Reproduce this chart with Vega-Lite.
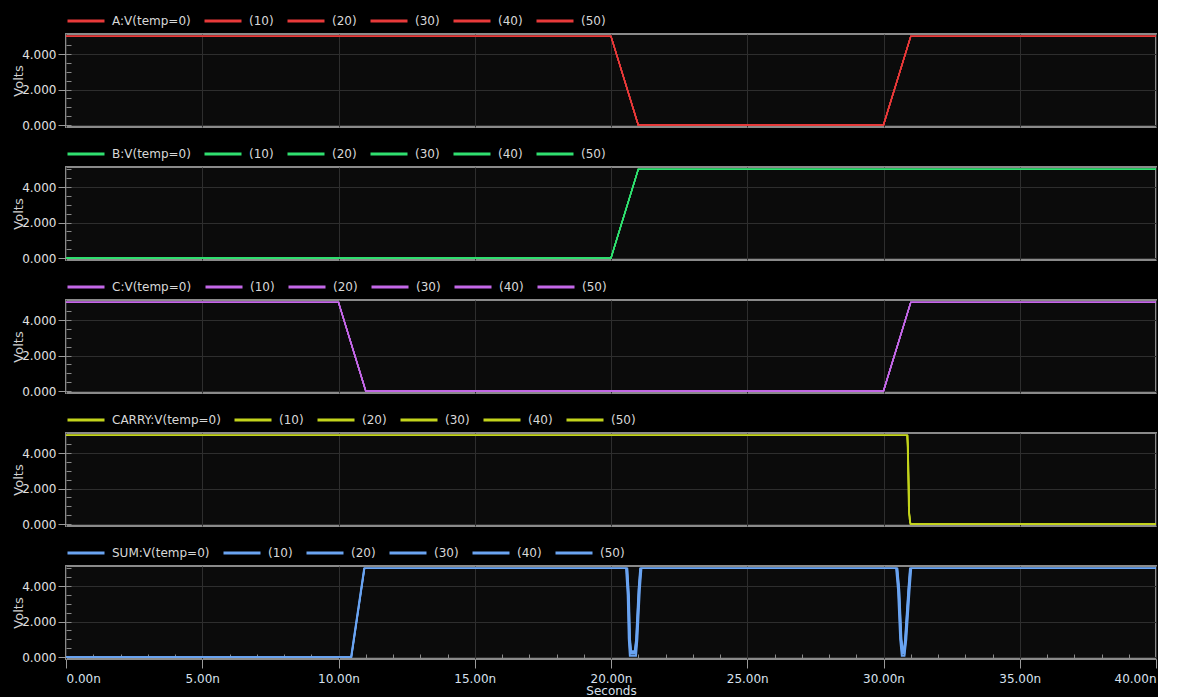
{
"$schema":"https://vega.github.io/schema/vega-lite/v6.json",
"background":"#000000",
"padding":{"left":10,"top":0,"right":0,"bottom":0},
"bounds":"flush",
"spacing":40,
"config":{
 "font":"DejaVu Sans",
 "view":{"fill":"#0b0b0b","stroke":"#8a8a8a","strokeWidth":2},
 "legend":{"orient":"none","legendX":0,"legendY":-33,"direction":"horizontal","columns":6,"symbolType":"stroke","symbolSize":1369,"symbolStrokeWidth":3,"labelFont":"DejaVu Sans","labelFontSize":12,"labelColor":"#d8d8d8","labelOffset":6,"columnPadding":7,"title":null}
},
"resolve":{"scale":{"color":"independent","x":"independent","y":"independent"},"legend":{"color":"independent"}},
"datasets":{"w":[
{"sig":"A","s":"A:V(temp=0)","t":0,"v":5},{"sig":"A","s":"A:V(temp=0)","t":20,"v":5},{"sig":"A","s":"A:V(temp=0)","t":21,"v":0},{"sig":"A","s":"A:V(temp=0)","t":30,"v":0},{"sig":"A","s":"A:V(temp=0)","t":31,"v":5},{"sig":"A","s":"A:V(temp=0)","t":40,"v":5},
{"sig":"A","s":"(10)","t":0,"v":5},{"sig":"A","s":"(10)","t":20,"v":5},{"sig":"A","s":"(10)","t":21,"v":0},{"sig":"A","s":"(10)","t":30,"v":0},{"sig":"A","s":"(10)","t":31,"v":5},{"sig":"A","s":"(10)","t":40,"v":5},
{"sig":"A","s":"(20)","t":0,"v":5},{"sig":"A","s":"(20)","t":20,"v":5},{"sig":"A","s":"(20)","t":21,"v":0},{"sig":"A","s":"(20)","t":30,"v":0},{"sig":"A","s":"(20)","t":31,"v":5},{"sig":"A","s":"(20)","t":40,"v":5},
{"sig":"A","s":"(30)","t":0,"v":5},{"sig":"A","s":"(30)","t":20,"v":5},{"sig":"A","s":"(30)","t":21,"v":0},{"sig":"A","s":"(30)","t":30,"v":0},{"sig":"A","s":"(30)","t":31,"v":5},{"sig":"A","s":"(30)","t":40,"v":5},
{"sig":"A","s":"(40)","t":0,"v":5},{"sig":"A","s":"(40)","t":20,"v":5},{"sig":"A","s":"(40)","t":21,"v":0},{"sig":"A","s":"(40)","t":30,"v":0},{"sig":"A","s":"(40)","t":31,"v":5},{"sig":"A","s":"(40)","t":40,"v":5},
{"sig":"A","s":"(50)","t":0,"v":5},{"sig":"A","s":"(50)","t":20,"v":5},{"sig":"A","s":"(50)","t":21,"v":0},{"sig":"A","s":"(50)","t":30,"v":0},{"sig":"A","s":"(50)","t":31,"v":5},{"sig":"A","s":"(50)","t":40,"v":5},
{"sig":"B","s":"B:V(temp=0)","t":0,"v":0},{"sig":"B","s":"B:V(temp=0)","t":20,"v":0},{"sig":"B","s":"B:V(temp=0)","t":21,"v":5},{"sig":"B","s":"B:V(temp=0)","t":40,"v":5},
{"sig":"B","s":"(10)","t":0,"v":0},{"sig":"B","s":"(10)","t":20,"v":0},{"sig":"B","s":"(10)","t":21,"v":5},{"sig":"B","s":"(10)","t":40,"v":5},
{"sig":"B","s":"(20)","t":0,"v":0},{"sig":"B","s":"(20)","t":20,"v":0},{"sig":"B","s":"(20)","t":21,"v":5},{"sig":"B","s":"(20)","t":40,"v":5},
{"sig":"B","s":"(30)","t":0,"v":0},{"sig":"B","s":"(30)","t":20,"v":0},{"sig":"B","s":"(30)","t":21,"v":5},{"sig":"B","s":"(30)","t":40,"v":5},
{"sig":"B","s":"(40)","t":0,"v":0},{"sig":"B","s":"(40)","t":20,"v":0},{"sig":"B","s":"(40)","t":21,"v":5},{"sig":"B","s":"(40)","t":40,"v":5},
{"sig":"B","s":"(50)","t":0,"v":0},{"sig":"B","s":"(50)","t":20,"v":0},{"sig":"B","s":"(50)","t":21,"v":5},{"sig":"B","s":"(50)","t":40,"v":5},
{"sig":"C","s":"C:V(temp=0)","t":0,"v":5},{"sig":"C","s":"C:V(temp=0)","t":10,"v":5},{"sig":"C","s":"C:V(temp=0)","t":11,"v":0},{"sig":"C","s":"C:V(temp=0)","t":30,"v":0},{"sig":"C","s":"C:V(temp=0)","t":31,"v":5},{"sig":"C","s":"C:V(temp=0)","t":40,"v":5},
{"sig":"C","s":"(10)","t":0,"v":5},{"sig":"C","s":"(10)","t":10,"v":5},{"sig":"C","s":"(10)","t":11,"v":0},{"sig":"C","s":"(10)","t":30,"v":0},{"sig":"C","s":"(10)","t":31,"v":5},{"sig":"C","s":"(10)","t":40,"v":5},
{"sig":"C","s":"(20)","t":0,"v":5},{"sig":"C","s":"(20)","t":10,"v":5},{"sig":"C","s":"(20)","t":11,"v":0},{"sig":"C","s":"(20)","t":30,"v":0},{"sig":"C","s":"(20)","t":31,"v":5},{"sig":"C","s":"(20)","t":40,"v":5},
{"sig":"C","s":"(30)","t":0,"v":5},{"sig":"C","s":"(30)","t":10,"v":5},{"sig":"C","s":"(30)","t":11,"v":0},{"sig":"C","s":"(30)","t":30,"v":0},{"sig":"C","s":"(30)","t":31,"v":5},{"sig":"C","s":"(30)","t":40,"v":5},
{"sig":"C","s":"(40)","t":0,"v":5},{"sig":"C","s":"(40)","t":10,"v":5},{"sig":"C","s":"(40)","t":11,"v":0},{"sig":"C","s":"(40)","t":30,"v":0},{"sig":"C","s":"(40)","t":31,"v":5},{"sig":"C","s":"(40)","t":40,"v":5},
{"sig":"C","s":"(50)","t":0,"v":5},{"sig":"C","s":"(50)","t":10,"v":5},{"sig":"C","s":"(50)","t":11,"v":0},{"sig":"C","s":"(50)","t":30,"v":0},{"sig":"C","s":"(50)","t":31,"v":5},{"sig":"C","s":"(50)","t":40,"v":5},
{"sig":"CARRY","s":"CARRY:V(temp=0)","t":0,"v":5},{"sig":"CARRY","s":"CARRY:V(temp=0)","t":30.86,"v":5},{"sig":"CARRY","s":"CARRY:V(temp=0)","t":30.88,"v":4.3},{"sig":"CARRY","s":"CARRY:V(temp=0)","t":30.92,"v":1.0},{"sig":"CARRY","s":"CARRY:V(temp=0)","t":30.95,"v":0.3},{"sig":"CARRY","s":"CARRY:V(temp=0)","t":30.98,"v":0},{"sig":"CARRY","s":"CARRY:V(temp=0)","t":40,"v":0},
{"sig":"CARRY","s":"(10)","t":0,"v":5},{"sig":"CARRY","s":"(10)","t":30.87,"v":5},{"sig":"CARRY","s":"(10)","t":30.89,"v":4.2},{"sig":"CARRY","s":"(10)","t":30.93,"v":0.9},{"sig":"CARRY","s":"(10)","t":30.96,"v":0.2},{"sig":"CARRY","s":"(10)","t":30.99,"v":0},{"sig":"CARRY","s":"(10)","t":40,"v":0},
{"sig":"CARRY","s":"(20)","t":0,"v":5},{"sig":"CARRY","s":"(20)","t":30.87,"v":5},{"sig":"CARRY","s":"(20)","t":30.9,"v":4.1},{"sig":"CARRY","s":"(20)","t":30.94,"v":0.8},{"sig":"CARRY","s":"(20)","t":30.97,"v":0.2},{"sig":"CARRY","s":"(20)","t":31.0,"v":0},{"sig":"CARRY","s":"(20)","t":40,"v":0},
{"sig":"CARRY","s":"(30)","t":0,"v":5},{"sig":"CARRY","s":"(30)","t":30.88,"v":5},{"sig":"CARRY","s":"(30)","t":30.9,"v":4.0},{"sig":"CARRY","s":"(30)","t":30.94,"v":0.7},{"sig":"CARRY","s":"(30)","t":30.97,"v":0.2},{"sig":"CARRY","s":"(30)","t":31.0,"v":0},{"sig":"CARRY","s":"(30)","t":40,"v":0},
{"sig":"CARRY","s":"(40)","t":0,"v":5},{"sig":"CARRY","s":"(40)","t":30.88,"v":5},{"sig":"CARRY","s":"(40)","t":30.91,"v":3.9},{"sig":"CARRY","s":"(40)","t":30.95,"v":0.6},{"sig":"CARRY","s":"(40)","t":30.98,"v":0.1},{"sig":"CARRY","s":"(40)","t":31.01,"v":0},{"sig":"CARRY","s":"(40)","t":40,"v":0},
{"sig":"CARRY","s":"(50)","t":0,"v":5},{"sig":"CARRY","s":"(50)","t":30.89,"v":5},{"sig":"CARRY","s":"(50)","t":30.91,"v":3.8},{"sig":"CARRY","s":"(50)","t":30.95,"v":0.6},{"sig":"CARRY","s":"(50)","t":30.98,"v":0.1},{"sig":"CARRY","s":"(50)","t":31.01,"v":0},{"sig":"CARRY","s":"(50)","t":40,"v":0},
{"sig":"SUM","s":"SUM:V(temp=0)","t":0,"v":0},{"sig":"SUM","s":"SUM:V(temp=0)","t":10.45,"v":0},{"sig":"SUM","s":"SUM:V(temp=0)","t":10.93,"v":5},{"sig":"SUM","s":"SUM:V(temp=0)","t":20.54,"v":5},{"sig":"SUM","s":"SUM:V(temp=0)","t":20.6,"v":3.5},{"sig":"SUM","s":"SUM:V(temp=0)","t":20.64,"v":1},{"sig":"SUM","s":"SUM:V(temp=0)","t":20.68,"v":0.06},{"sig":"SUM","s":"SUM:V(temp=0)","t":20.93,"v":0.06},{"sig":"SUM","s":"SUM:V(temp=0)","t":20.98,"v":1},{"sig":"SUM","s":"SUM:V(temp=0)","t":21.07,"v":3.8},{"sig":"SUM","s":"SUM:V(temp=0)","t":21.13,"v":5},{"sig":"SUM","s":"SUM:V(temp=0)","t":30.45,"v":5},{"sig":"SUM","s":"SUM:V(temp=0)","t":30.52,"v":3.8},{"sig":"SUM","s":"SUM:V(temp=0)","t":30.6,"v":1},{"sig":"SUM","s":"SUM:V(temp=0)","t":30.66,"v":0.06},{"sig":"SUM","s":"SUM:V(temp=0)","t":30.78,"v":0.06},{"sig":"SUM","s":"SUM:V(temp=0)","t":30.85,"v":1},{"sig":"SUM","s":"SUM:V(temp=0)","t":30.97,"v":3.8},{"sig":"SUM","s":"SUM:V(temp=0)","t":31.03,"v":5},{"sig":"SUM","s":"SUM:V(temp=0)","t":40,"v":5},
{"sig":"SUM","s":"(10)","t":0,"v":0},{"sig":"SUM","s":"(10)","t":10.46,"v":0},{"sig":"SUM","s":"(10)","t":10.94,"v":5},{"sig":"SUM","s":"(10)","t":20.56,"v":5},{"sig":"SUM","s":"(10)","t":20.62,"v":3.5},{"sig":"SUM","s":"(10)","t":20.66,"v":1},{"sig":"SUM","s":"(10)","t":20.7,"v":0.1},{"sig":"SUM","s":"(10)","t":20.91,"v":0.1},{"sig":"SUM","s":"(10)","t":20.96,"v":1},{"sig":"SUM","s":"(10)","t":21.05,"v":3.8},{"sig":"SUM","s":"(10)","t":21.11,"v":5},{"sig":"SUM","s":"(10)","t":30.47,"v":5},{"sig":"SUM","s":"(10)","t":30.54,"v":3.8},{"sig":"SUM","s":"(10)","t":30.62,"v":1},{"sig":"SUM","s":"(10)","t":30.68,"v":0.1},{"sig":"SUM","s":"(10)","t":30.77,"v":0.1},{"sig":"SUM","s":"(10)","t":30.83,"v":1},{"sig":"SUM","s":"(10)","t":30.95,"v":3.8},{"sig":"SUM","s":"(10)","t":31.01,"v":5},{"sig":"SUM","s":"(10)","t":40,"v":5},
{"sig":"SUM","s":"(20)","t":0,"v":0},{"sig":"SUM","s":"(20)","t":10.47,"v":0},{"sig":"SUM","s":"(20)","t":10.95,"v":5},{"sig":"SUM","s":"(20)","t":20.58,"v":5},{"sig":"SUM","s":"(20)","t":20.64,"v":3.5},{"sig":"SUM","s":"(20)","t":20.68,"v":1},{"sig":"SUM","s":"(20)","t":20.72,"v":0.2},{"sig":"SUM","s":"(20)","t":20.89,"v":0.2},{"sig":"SUM","s":"(20)","t":20.94,"v":1},{"sig":"SUM","s":"(20)","t":21.03,"v":3.8},{"sig":"SUM","s":"(20)","t":21.09,"v":5},{"sig":"SUM","s":"(20)","t":30.49,"v":5},{"sig":"SUM","s":"(20)","t":30.56,"v":3.8},{"sig":"SUM","s":"(20)","t":30.64,"v":1},{"sig":"SUM","s":"(20)","t":30.7,"v":0.2},{"sig":"SUM","s":"(20)","t":30.75,"v":0.2},{"sig":"SUM","s":"(20)","t":30.81,"v":1},{"sig":"SUM","s":"(20)","t":30.93,"v":3.8},{"sig":"SUM","s":"(20)","t":30.99,"v":5},{"sig":"SUM","s":"(20)","t":40,"v":5},
{"sig":"SUM","s":"(30)","t":0,"v":0},{"sig":"SUM","s":"(30)","t":10.47,"v":0},{"sig":"SUM","s":"(30)","t":10.95,"v":5},{"sig":"SUM","s":"(30)","t":20.59,"v":5},{"sig":"SUM","s":"(30)","t":20.65,"v":3.4},{"sig":"SUM","s":"(30)","t":20.69,"v":1},{"sig":"SUM","s":"(30)","t":20.73,"v":0.25},{"sig":"SUM","s":"(30)","t":20.88,"v":0.25},{"sig":"SUM","s":"(30)","t":20.93,"v":1},{"sig":"SUM","s":"(30)","t":21.02,"v":3.8},{"sig":"SUM","s":"(30)","t":21.08,"v":5},{"sig":"SUM","s":"(30)","t":30.5,"v":5},{"sig":"SUM","s":"(30)","t":30.57,"v":3.8},{"sig":"SUM","s":"(30)","t":30.65,"v":1},{"sig":"SUM","s":"(30)","t":30.71,"v":0.25},{"sig":"SUM","s":"(30)","t":30.74,"v":0.25},{"sig":"SUM","s":"(30)","t":30.8,"v":1},{"sig":"SUM","s":"(30)","t":30.92,"v":3.8},{"sig":"SUM","s":"(30)","t":30.98,"v":5},{"sig":"SUM","s":"(30)","t":40,"v":5},
{"sig":"SUM","s":"(40)","t":0,"v":0},{"sig":"SUM","s":"(40)","t":10.48,"v":0},{"sig":"SUM","s":"(40)","t":10.96,"v":5},{"sig":"SUM","s":"(40)","t":20.6,"v":5},{"sig":"SUM","s":"(40)","t":20.66,"v":3.4},{"sig":"SUM","s":"(40)","t":20.7,"v":1},{"sig":"SUM","s":"(40)","t":20.74,"v":0.3},{"sig":"SUM","s":"(40)","t":20.87,"v":0.3},{"sig":"SUM","s":"(40)","t":20.92,"v":1},{"sig":"SUM","s":"(40)","t":21.01,"v":3.8},{"sig":"SUM","s":"(40)","t":21.07,"v":5},{"sig":"SUM","s":"(40)","t":30.51,"v":5},{"sig":"SUM","s":"(40)","t":30.58,"v":3.8},{"sig":"SUM","s":"(40)","t":30.66,"v":1},{"sig":"SUM","s":"(40)","t":30.72,"v":0.3},{"sig":"SUM","s":"(40)","t":30.74,"v":0.3},{"sig":"SUM","s":"(40)","t":30.79,"v":1},{"sig":"SUM","s":"(40)","t":30.91,"v":3.8},{"sig":"SUM","s":"(40)","t":30.97,"v":5},{"sig":"SUM","s":"(40)","t":40,"v":5},
{"sig":"SUM","s":"(50)","t":0,"v":0},{"sig":"SUM","s":"(50)","t":10.48,"v":0},{"sig":"SUM","s":"(50)","t":10.96,"v":5},{"sig":"SUM","s":"(50)","t":20.61,"v":5},{"sig":"SUM","s":"(50)","t":20.67,"v":3.4},{"sig":"SUM","s":"(50)","t":20.71,"v":1},{"sig":"SUM","s":"(50)","t":20.75,"v":0.35},{"sig":"SUM","s":"(50)","t":20.86,"v":0.35},{"sig":"SUM","s":"(50)","t":20.91,"v":1},{"sig":"SUM","s":"(50)","t":21.0,"v":3.8},{"sig":"SUM","s":"(50)","t":21.06,"v":5},{"sig":"SUM","s":"(50)","t":30.52,"v":5},{"sig":"SUM","s":"(50)","t":30.59,"v":3.8},{"sig":"SUM","s":"(50)","t":30.67,"v":1},{"sig":"SUM","s":"(50)","t":30.72,"v":0.35},{"sig":"SUM","s":"(50)","t":30.74,"v":0.35},{"sig":"SUM","s":"(50)","t":30.78,"v":1},{"sig":"SUM","s":"(50)","t":30.9,"v":3.8},{"sig":"SUM","s":"(50)","t":30.96,"v":5},{"sig":"SUM","s":"(50)","t":40,"v":5}
]},
"vconcat":[
{"width":1090,"height":93,"data":{"name":"w"},"transform":[{"filter":"datum.sig==='A'"}],
 "layer":[
  {"mark":{"type":"line","opacity":0},"encoding":{
    "x":{"field":"t","type":"quantitative","scale":{"domain":[0,40],"nice":false,"zero":false},"axis":null},
    "y":{"field":"v","type":"quantitative","scale":{"domain":[-0.11,5.13],"nice":false,"zero":false},"axis":{"orient":"left","values":[0,0.5,1,1.5,2,2.5,3,3.5,4,4.5,5],"labels":false,"grid":false,"domain":false,"tickSize":-5,"tickColor":"#8a8a8a","title":null}}}},
  {"mark":{"type":"line","strokeWidth":1.3,"clip":true},"encoding":{
    "x":{"field":"t","type":"quantitative","axis":{"orient":"bottom","values":[0,5,10,15,20,25,30,35,40],"labels":false,"ticks":false,"domain":false,"grid":true,"gridColor":"#2e2e2e","title":null}},
    "y":{"field":"v","type":"quantitative","axis":{"orient":"left","values":[0,2,4],"format":".3f","labelFontSize":12,"labelColor":"#e0e0e0","labelPadding":2,"tickSize":8,"tickColor":"#9a9a9a","grid":true,"gridColor":"#2e2e2e","domain":false,"title":"Volts","titleFontSize":13,"titleFontWeight":"normal","titleColor":"#d0d0d0","titleX":-44,"titleBaseline":"alphabetic"}},
    "color":{"field":"s","type":"nominal","scale":{"domain":["A:V(temp=0)","(10)","(20)","(30)","(40)","(50)"],"range":["#e83a3a","#e83a3a","#e83a3a","#e83a3a","#e83a3a","#e83a3a"]}}}}
 ],
 "resolve":{"axis":{"x":"independent","y":"independent"}}},
{"width":1090,"height":93,"data":{"name":"w"},"transform":[{"filter":"datum.sig==='B'"}],
 "layer":[
  {"mark":{"type":"line","opacity":0},"encoding":{
    "x":{"field":"t","type":"quantitative","scale":{"domain":[0,40],"nice":false,"zero":false},"axis":null},
    "y":{"field":"v","type":"quantitative","scale":{"domain":[-0.11,5.13],"nice":false,"zero":false},"axis":{"orient":"left","values":[0,0.5,1,1.5,2,2.5,3,3.5,4,4.5,5],"labels":false,"grid":false,"domain":false,"tickSize":-5,"tickColor":"#8a8a8a","title":null}}}},
  {"mark":{"type":"line","strokeWidth":1.3,"clip":true},"encoding":{
    "x":{"field":"t","type":"quantitative","axis":{"orient":"bottom","values":[0,5,10,15,20,25,30,35,40],"labels":false,"ticks":false,"domain":false,"grid":true,"gridColor":"#2e2e2e","title":null}},
    "y":{"field":"v","type":"quantitative","axis":{"orient":"left","values":[0,2,4],"format":".3f","labelFontSize":12,"labelColor":"#e0e0e0","labelPadding":2,"tickSize":8,"tickColor":"#9a9a9a","grid":true,"gridColor":"#2e2e2e","domain":false,"title":"Volts","titleFontSize":13,"titleFontWeight":"normal","titleColor":"#d0d0d0","titleX":-44,"titleBaseline":"alphabetic"}},
    "color":{"field":"s","type":"nominal","scale":{"domain":["B:V(temp=0)","(10)","(20)","(30)","(40)","(50)"],"range":["#30e070","#30e070","#30e070","#30e070","#30e070","#30e070"]}}}}
 ],
 "resolve":{"axis":{"x":"independent","y":"independent"}}},
{"width":1090,"height":93,"data":{"name":"w"},"transform":[{"filter":"datum.sig==='C'"}],
 "layer":[
  {"mark":{"type":"line","opacity":0},"encoding":{
    "x":{"field":"t","type":"quantitative","scale":{"domain":[0,40],"nice":false,"zero":false},"axis":null},
    "y":{"field":"v","type":"quantitative","scale":{"domain":[-0.11,5.13],"nice":false,"zero":false},"axis":{"orient":"left","values":[0,0.5,1,1.5,2,2.5,3,3.5,4,4.5,5],"labels":false,"grid":false,"domain":false,"tickSize":-5,"tickColor":"#8a8a8a","title":null}}}},
  {"mark":{"type":"line","strokeWidth":1.3,"clip":true},"encoding":{
    "x":{"field":"t","type":"quantitative","axis":{"orient":"bottom","values":[0,5,10,15,20,25,30,35,40],"labels":false,"ticks":false,"domain":false,"grid":true,"gridColor":"#2e2e2e","title":null}},
    "y":{"field":"v","type":"quantitative","axis":{"orient":"left","values":[0,2,4],"format":".3f","labelFontSize":12,"labelColor":"#e0e0e0","labelPadding":2,"tickSize":8,"tickColor":"#9a9a9a","grid":true,"gridColor":"#2e2e2e","domain":false,"title":"Volts","titleFontSize":13,"titleFontWeight":"normal","titleColor":"#d0d0d0","titleX":-44,"titleBaseline":"alphabetic"}},
    "color":{"field":"s","type":"nominal","scale":{"domain":["C:V(temp=0)","(10)","(20)","(30)","(40)","(50)"],"range":["#c468e8","#c468e8","#c468e8","#c468e8","#c468e8","#c468e8"]}}}}
 ],
 "resolve":{"axis":{"x":"independent","y":"independent"}}},
{"width":1090,"height":93,"data":{"name":"w"},"transform":[{"filter":"datum.sig==='CARRY'"}],
 "layer":[
  {"mark":{"type":"line","opacity":0},"encoding":{
    "x":{"field":"t","type":"quantitative","scale":{"domain":[0,40],"nice":false,"zero":false},"axis":null},
    "y":{"field":"v","type":"quantitative","scale":{"domain":[-0.11,5.13],"nice":false,"zero":false},"axis":{"orient":"left","values":[0,0.5,1,1.5,2,2.5,3,3.5,4,4.5,5],"labels":false,"grid":false,"domain":false,"tickSize":-5,"tickColor":"#8a8a8a","title":null}}}},
  {"mark":{"type":"line","strokeWidth":1.3,"clip":true},"encoding":{
    "x":{"field":"t","type":"quantitative","axis":{"orient":"bottom","values":[0,5,10,15,20,25,30,35,40],"labels":false,"ticks":false,"domain":false,"grid":true,"gridColor":"#2e2e2e","title":null}},
    "y":{"field":"v","type":"quantitative","axis":{"orient":"left","values":[0,2,4],"format":".3f","labelFontSize":12,"labelColor":"#e0e0e0","labelPadding":2,"tickSize":8,"tickColor":"#9a9a9a","grid":true,"gridColor":"#2e2e2e","domain":false,"title":"Volts","titleFontSize":13,"titleFontWeight":"normal","titleColor":"#d0d0d0","titleX":-44,"titleBaseline":"alphabetic"}},
    "color":{"field":"s","type":"nominal","scale":{"domain":["CARRY:V(temp=0)","(10)","(20)","(30)","(40)","(50)"],"range":["#c3d41c","#c3d41c","#c3d41c","#c3d41c","#c3d41c","#c3d41c"]}}}}
 ],
 "resolve":{"axis":{"x":"independent","y":"independent"}}},
{"width":1090,"height":93,"data":{"name":"w"},"transform":[{"filter":"datum.sig==='SUM'"}],
 "layer":[
  {"mark":{"type":"line","opacity":0},"encoding":{
    "x":{"field":"t","type":"quantitative","scale":{"domain":[0,40],"nice":false,"zero":false},"axis":{"orient":"bottom","values":[1,2,3,4,6,7,8,9,11,12,13,14,16,17,18,19,21,22,23,24,26,27,28,29,31,32,33,34,36,37,38,39],"labels":false,"grid":false,"domain":false,"tickSize":-5,"tickColor":"#8a8a8a","title":null}},
    "y":{"field":"v","type":"quantitative","scale":{"domain":[-0.11,5.13],"nice":false,"zero":false},"axis":{"orient":"left","values":[0,0.5,1,1.5,2,2.5,3,3.5,4,4.5,5],"labels":false,"grid":false,"domain":false,"tickSize":-5,"tickColor":"#8a8a8a","title":null}}}},
  {"mark":{"type":"line","strokeWidth":1.3,"clip":true},"encoding":{
    "x":{"field":"t","type":"quantitative","axis":{"orient":"bottom","values":[0,5,10,15,20,25,30,35,40],"labelExpr":"format(datum.value,'.2f')+'n'","labelFontSize":12,"labelColor":"#d8e0ee","labelPadding":5,"tickSize":9,"tickColor":"#9a9a9a","domain":false,"grid":true,"gridColor":"#2e2e2e","title":"Seconds","titleFontSize":12,"titleFontWeight":"normal","titleColor":"#d8e0ee","titlePadding":1}},
    "y":{"field":"v","type":"quantitative","axis":{"orient":"left","values":[0,2,4],"format":".3f","labelFontSize":12,"labelColor":"#e0e0e0","labelPadding":2,"tickSize":8,"tickColor":"#9a9a9a","grid":true,"gridColor":"#2e2e2e","domain":false,"title":"Volts","titleFontSize":13,"titleFontWeight":"normal","titleColor":"#d0d0d0","titleX":-44,"titleBaseline":"alphabetic"}},
    "color":{"field":"s","type":"nominal","scale":{"domain":["SUM:V(temp=0)","(10)","(20)","(30)","(40)","(50)"],"range":["#6aa4f2","#6aa4f2","#6aa4f2","#6aa4f2","#6aa4f2","#6aa4f2"]}}}}
 ],
 "resolve":{"axis":{"x":"independent","y":"independent"}}}
]
}
